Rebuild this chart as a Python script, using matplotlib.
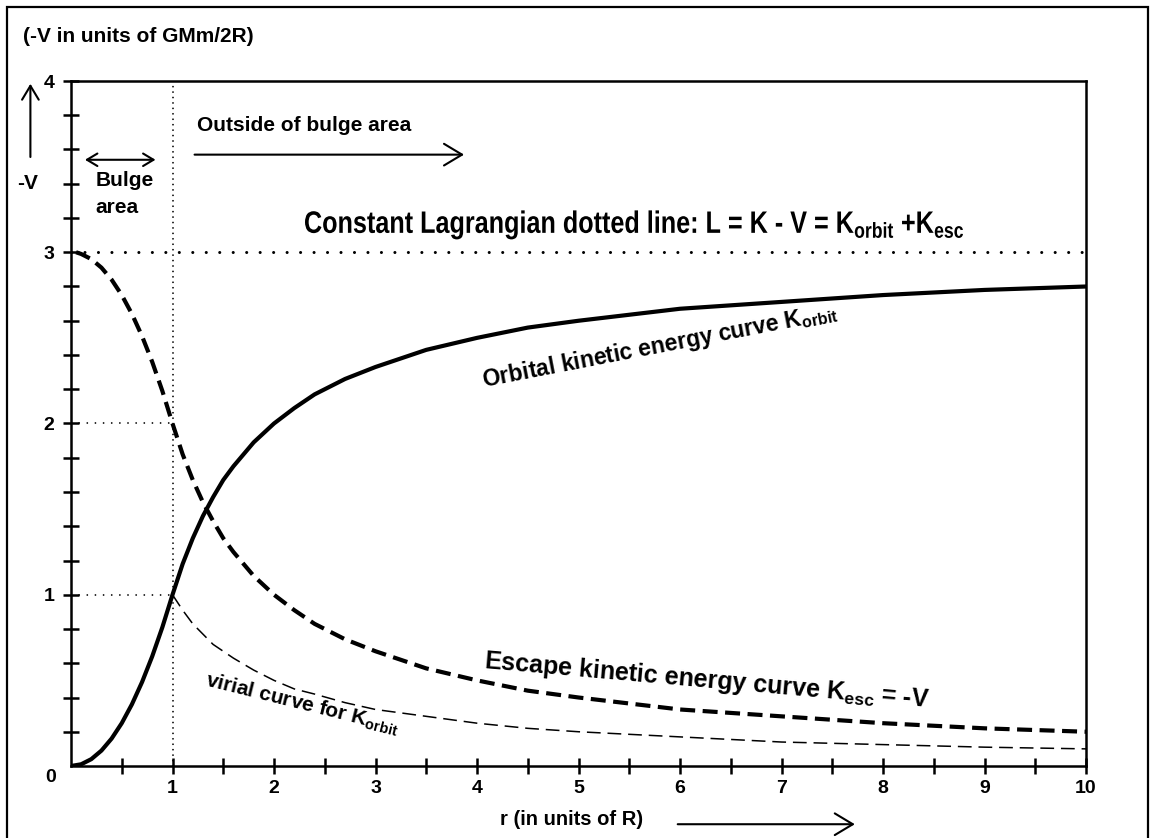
import matplotlib
matplotlib.use("Agg")
import matplotlib.pyplot as plt
from matplotlib.patches import Rectangle, PathPatch
from matplotlib.textpath import TextPath
from matplotlib.font_manager import FontProperties
from matplotlib.transforms import Affine2D

plt.rcParams['font.family'] = ['Liberation Sans', 'DejaVu Sans']
plt.rcParams['font.weight'] = 'bold'
plt.rcParams['mathtext.fontset'] = 'custom'
plt.rcParams['mathtext.rm'] = 'Liberation Sans:bold'
plt.rcParams['mathtext.default'] = 'rm'

# curve values (r in units of R, -V in units of GMm/2R)
r_orbit = [0, 0.1, 0.2, 0.3, 0.4, 0.5, 0.6, 0.7, 0.8, 0.9, 1.0,
           1.1, 1.2, 1.3, 1.4, 1.5, 1.6, 1.8, 2.0, 2.2, 2.4, 2.7, 3.0,
           3.5, 4.0, 4.5, 5.0, 6.0, 7.0, 8.0, 9.0, 10.0]
k_orbit = [0, 0.01, 0.04, 0.09, 0.16, 0.25, 0.36, 0.49, 0.64, 0.81, 1.0,
           1.18, 1.33, 1.46, 1.57, 1.67, 1.75, 1.89, 2.0, 2.09, 2.17, 2.26, 2.33,
           2.43, 2.5, 2.56, 2.6, 2.67, 2.71, 2.75, 2.78, 2.8]

r_esc = [0.05, 0.1, 0.2, 0.3, 0.4, 0.5, 0.6, 0.7, 0.8, 0.9, 1.0,
         1.1, 1.2, 1.3, 1.4, 1.5, 1.6, 1.8, 2.0, 2.2, 2.4, 2.7, 3.0,
         3.5, 4.0, 4.5, 5.0, 6.0, 7.0, 8.0, 9.0, 10.0]
k_esc = [3.0, 2.99, 2.96, 2.91, 2.84, 2.75, 2.64, 2.51, 2.36, 2.19, 2.0,
         1.82, 1.67, 1.54, 1.43, 1.33, 1.25, 1.11, 1.0, 0.91, 0.83, 0.74, 0.67,
         0.57, 0.5, 0.44, 0.4, 0.33, 0.29, 0.25, 0.22, 0.2]

r_virial = [1.0, 1.1, 1.2, 1.3, 1.4, 1.5, 1.6, 1.8, 2.0, 2.2, 2.4, 2.7, 3.0,
            3.5, 4.0, 4.5, 5.0, 6.0, 7.0, 8.0, 9.0, 10.0]
k_virial = [1.0, 0.91, 0.83, 0.77, 0.71, 0.67, 0.63, 0.56, 0.5, 0.45, 0.42, 0.37, 0.33,
            0.29, 0.25, 0.22, 0.2, 0.17, 0.14, 0.125, 0.11, 0.1]

lagrangian = 3.0
bulge_edge = 1.0

x_ticks = [0.5 * i for i in range(1, 21)]
x_labels = [str(int(t)) if t == int(t) else '' for t in x_ticks]
y_ticks = [0.2 * i for i in range(1, 21)]
y_labels = [str(round(t)) if abs(t - round(t)) < 1e-6 else '' for t in y_ticks]

lag_label = (r'Constant Lagrangian dotted line: L = K - V = '
             r'K$_{\mathrm{orbit}}$ +K$_{\mathrm{esc}}$')

W, H = 1150, 838
fig = plt.figure(figsize=(W / 100, H / 100), dpi=100)
ax = fig.add_axes([71 / W, 72 / H, 1015 / W, 685 / H])
ax.set_xlim(0, 10)
ax.set_ylim(0, 4)

# outer frame
fig.patches.append(Rectangle((7 / W, -0.1), 1141 / W, 1.1 - 7 / H,
                             transform=fig.transFigure, fill=False,
                             edgecolor='black', linewidth=1.6))

for s in ax.spines.values():
    s.set_linewidth(1.8)

# reference lines
ax.plot([0, 10], [lagrangian, lagrangian], color='black', lw=2.2,
        linestyle=(0, (0.01, 4.4)), dash_capstyle='round')
ax.axvline(bulge_edge, color='black', lw=1.3,
           linestyle=(0, (0.01, 3.0)), dash_capstyle='round')
for lvl in [1, 2]:
    ax.plot([0, bulge_edge], [lvl, lvl], color='black', lw=1.3,
            linestyle=(0, (0.01, 4.5)), dash_capstyle='round')

# curves
ax.plot(r_orbit, k_orbit, color='black', lw=3.0, solid_capstyle='round')
ax.plot(r_esc, k_esc, color='black', lw=3.0, linestyle=(0, (3.6, 1.8)))
ax.plot(r_virial, k_virial, color='black', lw=1.1, linestyle=(0, (9, 4.5)))

# ticks
ax.set_xticks(x_ticks, x_labels)
ax.set_yticks(y_ticks, y_labels)
ax.tick_params(direction='inout', length=12, width=1.8, labelsize=14)
ax.tick_params(axis='x', pad=4)
ax.tick_params(axis='y', pad=6)
ax.text(-0.2, -0.07, '0', fontsize=14, ha='center', va='center')

# annotations
fig.text(23 / W, 1 - 37 / H, '(-V in units of GMm/2R)', fontsize=15,
         ha='left', va='center')
ax.annotate('', xy=(-0.40, 4.0), xytext=(-0.40, 3.54),
            arrowprops=dict(arrowstyle='->, head_length=0.5, head_width=0.3',
                            lw=1.5, mutation_scale=20),
            annotation_clip=False)
ax.text(-0.43, 3.40, '-V', fontsize=15, ha='center', va='center')
ax.annotate('', xy=(0.11, 3.54), xytext=(0.86, 3.54),
            arrowprops=dict(arrowstyle='<->, head_length=0.5, head_width=0.3',
                            lw=1.5, mutation_scale=15))
ax.text(0.24, 3.42, 'Bulge', fontsize=15, ha='left', va='center')
ax.text(0.24, 3.26, 'area', fontsize=15, ha='left', va='center')
ax.text(1.24, 3.74, 'Outside of bulge area', fontsize=15, ha='left', va='center')
ax.annotate('', xy=(3.90, 3.57), xytext=(1.19, 3.57),
            arrowprops=dict(arrowstyle='->, head_length=0.5, head_width=0.3',
                            lw=1.5, mutation_scale=26))

# condensed label (Arial Narrow look): squeeze the glyph outlines horizontally
tp = TextPath((0, 0), lag_label, size=31,
              prop=FontProperties(family='Liberation Sans', weight='bold'))
ext = tp.get_extents()
squeeze = Affine2D().translate(-ext.x0, 0).scale(658 / ext.width, 1).translate(305, H - 233)
fig.add_artist(PathPatch(tp, transform=squeeze, facecolor='black', edgecolor='none'))

ax.text(5.80, 2.45, r'Orbital kinetic energy curve K$_{\mathrm{orbit}}$',
        fontsize=16.5, ha='center', va='center', rotation=11)
ax.text(6.26, 0.50, r'Escape kinetic energy curve K$_{\mathrm{esc}}$ = -V',
        fontsize=18, ha='center', va='center', rotation=-5)
ax.text(2.28, 0.36, r'virial curve for K$_{\mathrm{orbit}}$',
        fontsize=15, ha='center', va='center', rotation=-14)
fig.text(500 / W, 1 - 819 / H, 'r (in units of R)', fontsize=14.5,
         ha='left', va='center')
ax.annotate('', xy=(7.75, -0.34), xytext=(5.95, -0.34),
            arrowprops=dict(arrowstyle='->, head_length=0.5, head_width=0.3',
                            lw=1.5, mutation_scale=26),
            annotation_clip=False)

fig.savefig('out.png', dpi=100)
